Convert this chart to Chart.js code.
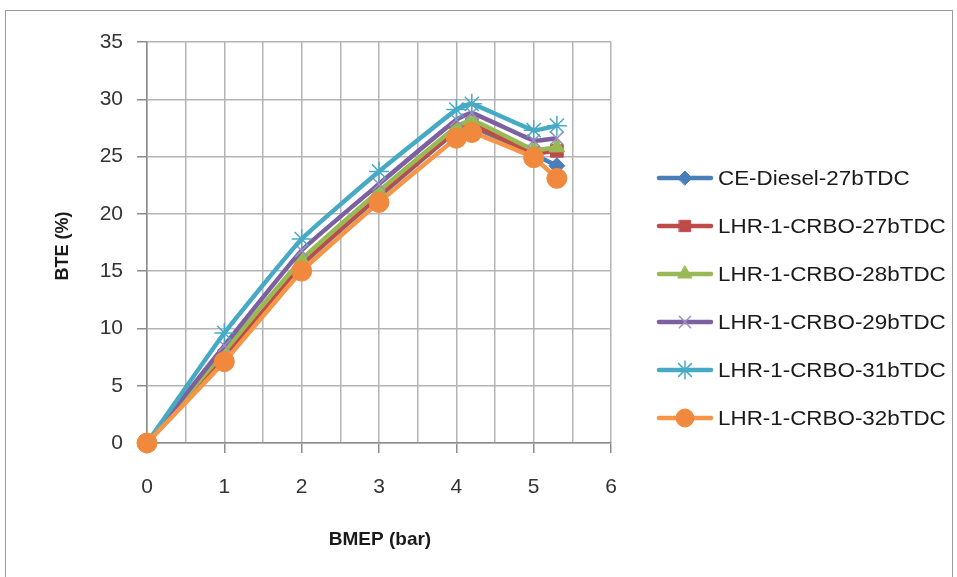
<!DOCTYPE html>
<html>
<head>
<meta charset="utf-8">
<script src="https://cdn.jsdelivr.net/npm/chart.js@4.4.0/dist/chart.umd.min.js"></script>
<style>
  html, body { margin: 0; padding: 0; background: #fff; }
  #wrap { position: relative; width: 957px; height: 577px; }
  #frame { position: absolute; left: 5px; top: 10px; width: 946px; height: 580px; border: 1px solid #9a9a9a; }
  canvas { position: absolute; left: 0; top: 0; }
</style>
</head>
<body>
<div id="wrap">
  <div id="frame"></div>
  <canvas id="chart" width="957" height="577"></canvas>
</div>
<script>
// BMEP (bar) values where BTE was measured
const bmep = [0, 1, 2, 3, 4, 4.2, 5, 5.3];

const ceDiesel27 = [0, 7.5, 15.5, 21.5, 27.2, 27.6, 25.2, 24.2];
const lhrCrbo27  = [0, 7.6, 15.6, 21.6, 27.3, 27.8, 25.3, 25.5];
const lhrCrbo28  = [0, 8.0, 16.0, 22.0, 27.6, 28.2, 25.6, 25.8];
const lhrCrbo29  = [0, 8.5, 16.8, 22.6, 28.2, 28.8, 26.4, 26.6];
const lhrCrbo31  = [0, 9.6, 17.8, 23.7, 29.1, 29.6, 27.3, 27.7];
const lhrCrbo32  = [0, 7.1, 15.0, 21.0, 26.6, 27.1, 24.9, 23.1];

const seriesNames = [
  'CE-Diesel-27bTDC', 'LHR-1-CRBO-27bTDC', 'LHR-1-CRBO-28bTDC',
  'LHR-1-CRBO-29bTDC', 'LHR-1-CRBO-31bTDC', 'LHR-1-CRBO-32bTDC'
];
const yTicks = [0, 5, 10, 15, 20, 25, 30, 35];
const xTicks = [0, 1, 2, 3, 4, 5, 6];
const xTitle = 'BMEP (bar)';
const yTitle = 'BTE (%)';

const series = [ceDiesel27, lhrCrbo27, lhrCrbo28, lhrCrbo29, lhrCrbo31, lhrCrbo32];
const lineColors = ['#4A7EBB', '#BE4B48', '#98B954', '#7D60A0', '#46AAC5', '#F79646'];
const markerFill = ['#4A7EBB', '#BE4B48', '#98B954', '#9F8FC0', '#46AAC5', '#F0883E'];
const markers = [
  { style: 'rectRot', r: 8 },
  { style: 'rect', r: 9 },
  { style: 'triangle', r: 9 },
  { style: 'crossRot', r: 9 },
  { style: 'star', r: 10 },
  { style: 'circle', r: 10 }
];

const datasets = series.map((vals, i) => ({
  label: seriesNames[i],
  data: bmep.map((x, j) => ({ x: x, y: vals[j] })),
  showLine: true,
  clip: false,
  borderColor: lineColors[i],
  backgroundColor: markerFill[i],
  borderWidth: 4.5,
  tension: 0.12,
  pointStyle: markers[i].style,
  pointRadius: markers[i].r,
  pointBorderColor: markerFill[i],
  pointBackgroundColor: markerFill[i],
  pointBorderWidth: (markers[i].style === 'crossRot' || markers[i].style === 'star') ? 1.5 : 1,
  order: 5 - i
}));

const FONT = '"Liberation Sans", Arial, sans-serif';

// legend drawn like the spreadsheet one (line with a marker in the middle), plus axis titles
const sideLegend = {
  id: 'sideLegend',
  afterDraw(chart) {
    const ctx = chart.ctx;
    const top = 178, gap = 48;
    chart.data.datasets.forEach((ds, i) => {
      const y = top + i * gap;
      ctx.save();
      ctx.strokeStyle = ds.borderColor;
      ctx.lineWidth = 4.5;
      ctx.lineCap = 'round';
      ctx.beginPath();
      ctx.moveTo(659, y);
      ctx.lineTo(711, y);
      ctx.stroke();
      ctx.fillStyle = ds.pointBackgroundColor;
      ctx.strokeStyle = ds.pointBorderColor;
      ctx.lineWidth = ds.pointBorderWidth;
      Chart.helpers.drawPoint(ctx, { pointStyle: ds.pointStyle, radius: ds.pointRadius - 1, rotation: 0, borderWidth: ds.pointBorderWidth }, 685, y);
      ctx.fillStyle = '#1a1a1a';
      ctx.font = '20px ' + FONT;
      ctx.textBaseline = 'middle';
      ctx.textAlign = 'left';
      ctx.translate(718, y + 1);
      ctx.scale(1.12, 1);
      ctx.fillText(ds.label, 0, 0);
      ctx.restore();
    });

    ctx.save();
    ctx.fillStyle = '#1a1a1a';
    ctx.font = 'bold 19px ' + FONT;
    ctx.textAlign = 'center';
    ctx.textBaseline = 'middle';
    ctx.fillText(xTitle, 380, 540);
    ctx.translate(63, 246);
    ctx.rotate(-Math.PI / 2);
    ctx.font = 'bold 18px ' + FONT;
    ctx.fillText(yTitle, 0, 0);
    ctx.restore();
  }
};

new Chart(document.getElementById('chart'), {
  type: 'scatter',
  data: { datasets: datasets },
  plugins: [sideLegend],
  options: {
    responsive: false,
    animation: false,
    layout: { padding: { top: 42, right: 346, bottom: 0, left: 0 } },
    plugins: {
      legend: { display: false },
      tooltip: { enabled: false }
    },
    scales: {
      x: {
        type: 'linear',
        min: xTicks[0],
        max: xTicks[xTicks.length - 1],
        afterFit(scale) { scale.height = 134; },
        afterBuildTicks(scale) {
          const t = [];
          for (let v = xTicks[0]; v <= xTicks[xTicks.length - 1] + 1e-9; v += 0.5) t.push({ value: v });
          scale.ticks = t;
        },
        ticks: {
          callback: (v) => (xTicks.includes(v) ? String(v) : ''),
          color: '#333',
          font: { family: FONT, size: 21 },
          padding: 22,
          maxRotation: 0,
          autoSkip: false
        },
        grid: {
          color: '#b4b4b4',
          lineWidth: 1.5,
          tickLength: 10,
          tickColor: (c) => (c.tick && xTicks.includes(c.tick.value) ? '#8c8c8c' : 'rgba(0,0,0,0)')
        },
        border: { color: '#8c8c8c', width: 1.5 }
      },
      y: {
        type: 'linear',
        min: yTicks[0],
        max: yTicks[yTicks.length - 1],
        afterFit(scale) { scale.width = 147; },
        afterBuildTicks(scale) { scale.ticks = yTicks.map(v => ({ value: v })); },
        ticks: {
          color: '#333',
          font: { family: FONT, size: 21 },
          padding: 14
        },
        grid: {
          color: '#b4b4b4',
          lineWidth: 1.5,
          tickLength: 10,
          tickColor: '#8c8c8c'
        },
        border: { color: '#8c8c8c', width: 1.5 }
      }
    }
  }
});
</script>
</body>
</html>
